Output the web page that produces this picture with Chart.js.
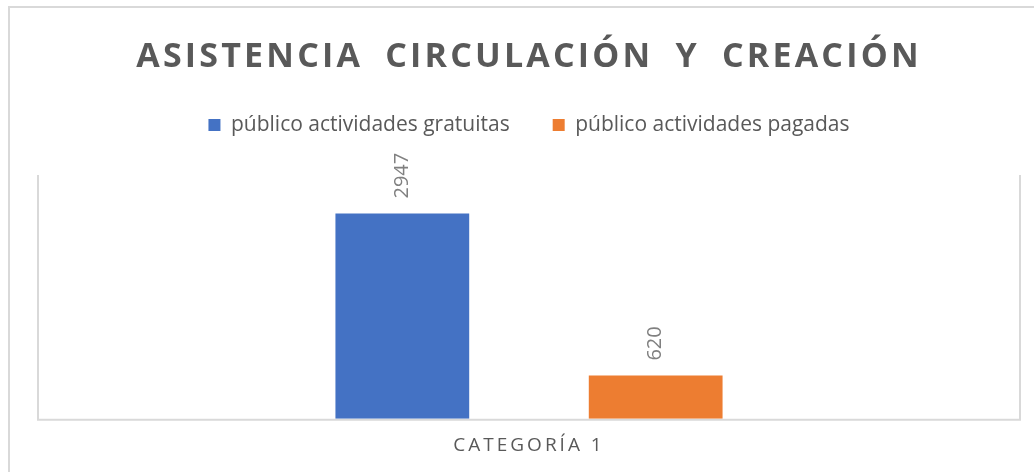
<!DOCTYPE html>
<html>
<head>
<meta charset="utf-8">
<script src="https://cdn.jsdelivr.net/npm/chart.js@4.4.1/dist/chart.umd.min.js"></script>
<style>
  html, body { margin: 0; padding: 0; background: #fff; overflow: hidden; }
  #frame { position: absolute; left: 8px; top: 6px; width: 1100px; height: 520px; border: 2px solid #d9d9d9; }
  #wrap { position: absolute; left: 0; top: 0; width: 1034px; height: 472px; }
</style>
</head>
<body>
<div id="frame"></div>
<div id="wrap"><canvas id="myChart"></canvas></div>
<script>
const categories = ['CATEGORÍA 1'];
const seriesNames = ['público actividades gratuitas', 'público actividades pagadas'];
const gratuitas = [2947];
const pagadas = [620];
const yMax = 3500;

const gris = '#595959';
const fuente = 'Open Sans';

// espaciado de letras para el título y la categoría
function conEspaciado(obj, fn, ls, ws) {
  if (!obj || obj['_esp_' + fn]) return;
  const orig = obj[fn];
  obj[fn] = function (...args) {
    const c = this.ctx;
    c.save();
    c.letterSpacing = ls;
    if (ws) c.wordSpacing = ws;
    orig.apply(this, args);
    c.restore();
  };
  obj['_esp_' + fn] = true;
}

const espaciado = {
  id: 'espaciado',
  beforeDraw(chart) {
    conEspaciado(chart.titleBlock, 'draw', '3.2px', '10px');
    conEspaciado(chart.scales.x, 'drawLabels', '3px');
  }
};

// marco del área de trazado (izquierda, derecha, abajo)
const marco = {
  id: 'marco',
  beforeDatasetsDraw(chart) {
    const { ctx, chartArea: a } = chart;
    ctx.save();
    ctx.strokeStyle = '#d9d9d9';
    ctx.lineWidth = 2;
    ctx.beginPath();
    ctx.moveTo(a.left, a.top);
    ctx.lineTo(a.left, a.bottom + 1);
    ctx.lineTo(a.right, a.bottom + 1);
    ctx.lineTo(a.right, a.top);
    ctx.stroke();
    ctx.restore();
  }
};

// etiquetas de datos giradas
const etiquetas = {
  id: 'etiquetas',
  afterDatasetsDraw(chart) {
    const ctx = chart.ctx;
    chart.data.datasets.forEach((ds, i) => {
      chart.getDatasetMeta(i).data.forEach((bar, j) => {
        ctx.save();
        ctx.translate(bar.x, bar.y - 15);
        ctx.rotate(-Math.PI / 2);
        ctx.font = '20px "' + fuente + '"';
        ctx.fillStyle = '#808080';
        ctx.textAlign = 'left';
        ctx.textBaseline = 'middle';
        ctx.fillText(String(ds.data[j]), 0, 0);
        ctx.restore();
      });
    });
  }
};

const ctx = document.getElementById('myChart').getContext('2d');
window.myChart = new Chart(ctx, {
  type: 'bar',
  data: {
    labels: categories,
    datasets: [
      { label: seriesNames[0], data: gratuitas, backgroundColor: '#4472C4' },
      { label: seriesNames[1], data: pagadas, backgroundColor: '#ED7D31' }
    ]
  },
  options: {
    responsive: true,
    maintainAspectRatio: false,
    animation: false,
    categoryPercentage: 0.516,
    barPercentage: 0.528,
    layout: { padding: { left: 38, right: 14, top: 0, bottom: 0 } },
    scales: {
      x: {
        grid: { display: false, drawTicks: false },
        border: { display: false },
        ticks: {
          color: gris,
          padding: 19,
          font: { family: fuente, size: 19, lineHeight: 0.8 }
        }
      },
      y: {
        display: false,
        min: 0,
        max: yMax
      }
    },
    plugins: {
      title: {
        display: true,
        text: 'ASISTENCIA CIRCULACIÓN Y CREACIÓN',
        color: gris,
        font: { family: fuente, size: 34, weight: 'bold', lineHeight: 0.6 },
        padding: { top: 47.5, bottom: 3.6 }
      },
      legend: {
        display: true,
        position: 'top',
        weight: 1600,
        labels: {
          color: gris,
          boxWidth: 12,
          boxHeight: 12,
          padding: 43,
          font: { family: fuente, size: 21 }
        }
      },
      subtitle: {
        display: true,
        text: '',
        font: { size: 10, lineHeight: 1 },
        padding: { top: 0, bottom: 19.5 }
      },
      tooltip: { enabled: false }
    }
  },
  plugins: [espaciado, marco, etiquetas]
});
window.myChart.draw();
</script>
</body>
</html>
